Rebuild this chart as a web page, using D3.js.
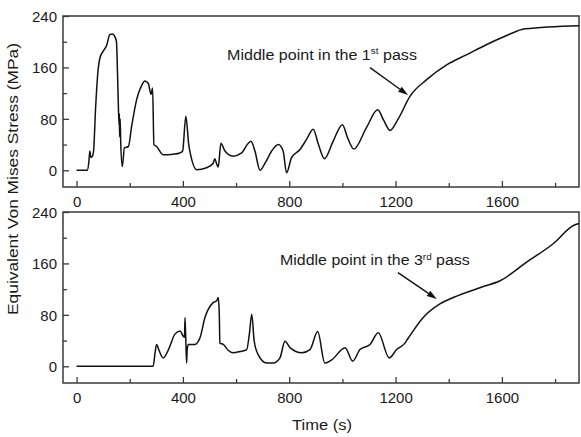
<!DOCTYPE html>
<html><head><meta charset="utf-8">
<script src="https://cdn.jsdelivr.net/npm/d3@7"></script>
<style>
html,body{margin:0;padding:0;background:#fff;}
text{font-family:"Liberation Sans",Arial,sans-serif;fill:#1a1a1a;}
</style></head>
<body><svg id="chart" width="581" height="437"></svg>
<script>
// ---- data ----
const topTime   = [0,40,46,50,54,60,64,72,81,88,100,113,125,135,144,150,156,160,161,162,164,166,172,180,195,207,226,245,257,270,280,286,291,301,326,364,389,399,411,422,433,452,489,514,520,527,533,543,558,589,621,646,656,671,690,709,734,759,777,790,809,840,865,890,910,932,965,1000,1020,1043,1090,1133,1155,1179,1210,1254,1317,1392,1468,1555,1620,1687,1890];
const topStress = [0,0,12,30,20,22,30,100,156,175,185,194,211,212,208,200,120,70,88,52,80,45,6,35,37,68,110,132,139,135,118,128,40,37,24,25,27,30,84,40,17,1,4,11,18,10,5,42,30,22,27,42,45,30,0,11,30,40,30,-4,20,32,48,64,40,18,45,71,50,33,66,94,78,62,80,115,141,164,180,198,210,220,225];
const bottomTime   = [0,288,295,301,310,326,345,370,389,401,406,408,411,414,416,420,445,464,483,514,527,533,537,539,552,570,589,615,640,650,659,668,683,715,740,765,784,803,847,878,907,934,960,1010,1039,1066,1104,1135,1176,1204,1235,1248,1304,1367,1417,1530,1593,1693,1794,1869,1890];
const bottomStress = [0,0,20,34,25,13,25,50,55,47,45,76,40,5,25,34,34,44,76,99,102,107,80,36,34,25,21,23,26,50,81,40,18,5,5,13,39,29,21,26,54,5,10,29,8,26,34,52,13,26,36,44,76,97,107,124,133,162,191,219,222];
const xMajorTicks = [0,400,800,1200,1600];
const xMinorTicks = [200,600,1000,1400,1800];
const yMajorTicks = [0,80,160,240];
const yMinorTicks = [40,120,200];
const panels = [
  {time: topTime, stress: topStress, label: "Middle point in the 1", sup: "st", tail: " pass",
   textAt: [566,171.6], arrowFrom: [1104,159.6], arrowTo: [1247,117]},
  {time: bottomTime, stress: bottomStress, label: "Middle point in the 3", sup: "rd", tail: " pass",
   textAt: [765,156.8], arrowFrom: [1209,145.6], arrowTo: [1355,104.7]}
];
const xTitle = "Time (s)";
const yTitle = "Equivalent Von Mises Stress (MPa)";

// ---- layout ----
const svg = d3.select("#chart");
const left = 63, right = 579;
const frames = [[16,187],[212,383]];
const x = d3.scaleLinear().domain([-51,1890]).range([left,right]);
const frameCol = "#3a3a3a";

panels.forEach((p,i)=>{
  const [t,b] = frames[i];
  const y = d3.scaleLinear().domain([-26,240]).range([b,t]);
  const g = svg.append("g");
  // frame
  g.append("rect").attr("x",left).attr("y",t).attr("width",right-left).attr("height",b-t)
    .attr("fill","none").attr("stroke",frameCol).attr("stroke-width",1.5);
  // x axis (ticks inward)
  const xa = g.append("g").attr("transform",`translate(0,${b})`)
    .call(d3.axisBottom(x).tickValues(xMajorTicks).tickSize(-6).tickPadding(0).tickFormat(d3.format("d")));
  xa.select(".domain").remove();
  xa.selectAll("line").attr("stroke",frameCol).attr("stroke-width",1.3);
  xa.selectAll("text").attr("y",20).attr("dy",0).attr("font-size",15).attr("fill","#1a1a1a")
    .attr("font-family","Liberation Sans, Arial, sans-serif");
  const xm = g.append("g").attr("transform",`translate(0,${b})`)
    .call(d3.axisBottom(x).tickValues(xMinorTicks).tickSize(-4).tickFormat(""));
  xm.select(".domain").remove();
  xm.selectAll("line").attr("stroke",frameCol).attr("stroke-width",1.3);
  // y axis
  const ya = g.append("g").attr("transform",`translate(${left},0)`)
    .call(d3.axisLeft(y).tickValues(yMajorTicks).tickSize(-6).tickPadding(0).tickFormat(d3.format("d")));
  ya.select(".domain").remove();
  ya.selectAll("line").attr("stroke",frameCol).attr("stroke-width",1.3);
  ya.selectAll("text").attr("x",-6).attr("dy","0.36em").attr("font-size",15).attr("fill","#1a1a1a")
    .attr("font-family","Liberation Sans, Arial, sans-serif");
  const ym = g.append("g").attr("transform",`translate(${left},0)`)
    .call(d3.axisLeft(y).tickValues(yMinorTicks).tickSize(-4).tickFormat(""));
  ym.select(".domain").remove();
  ym.selectAll("line").attr("stroke",frameCol).attr("stroke-width",1.3);
  // curve
  const data = p.time.map((tt,k)=>[tt,p.stress[k]]);
  g.append("path").datum(data)
    .attr("d", d3.line().x(d=>x(d[0])).y(d=>y(d[1])).curve(d3.curveMonotoneX))
    .attr("fill","none").attr("stroke","#111").attr("stroke-width",1.5).attr("stroke-linejoin","round");
  // annotation text
  const ag = g.append("g").attr("transform",`translate(${x(p.textAt[0])},${y(p.textAt[1])})`);
  const tx = ag.append("text").attr("font-size",14.5);
  tx.append("tspan").text(p.label);
  tx.append("tspan").attr("font-size",9).attr("dy",-6).text(p.sup);
  tx.append("tspan").attr("dy",6).text(p.tail);
  const w = tx.node().getComputedTextLength();
  ag.attr("transform",`translate(${x(p.textAt[0])},${y(p.textAt[1])}) scale(${190/w},1)`);
  // arrow
  const x1 = x(p.arrowFrom[0]), y1 = y(p.arrowFrom[1]), x2 = x(p.arrowTo[0]), y2 = y(p.arrowTo[1]);
  const ang = Math.atan2(y2-y1,x2-x1), L = 10, W = 3.2;
  const bx = x2 - L*Math.cos(ang), by = y2 - L*Math.sin(ang);
  g.append("line").attr("x1",x1).attr("y1",y1).attr("x2",bx).attr("y2",by)
    .attr("stroke","#111").attr("stroke-width",1.4);
  g.append("path").attr("d",`M${x2},${y2}L${bx - W*Math.sin(ang)},${by + W*Math.cos(ang)}L${bx + W*Math.sin(ang)},${by - W*Math.cos(ang)}Z`)
    .attr("fill","#111");
});

// axis titles
svg.append("text").attr("x",322).attr("y",430).attr("text-anchor","middle").attr("font-size",15.5)
  .attr("textLength",60).attr("lengthAdjust","spacingAndGlyphs").text(xTitle);
svg.append("text").attr("transform","translate(18,179) rotate(-90)").attr("text-anchor","middle")
  .attr("font-size",15.5).attr("textLength",272).attr("lengthAdjust","spacingAndGlyphs").text(yTitle);
</script></body></html>
